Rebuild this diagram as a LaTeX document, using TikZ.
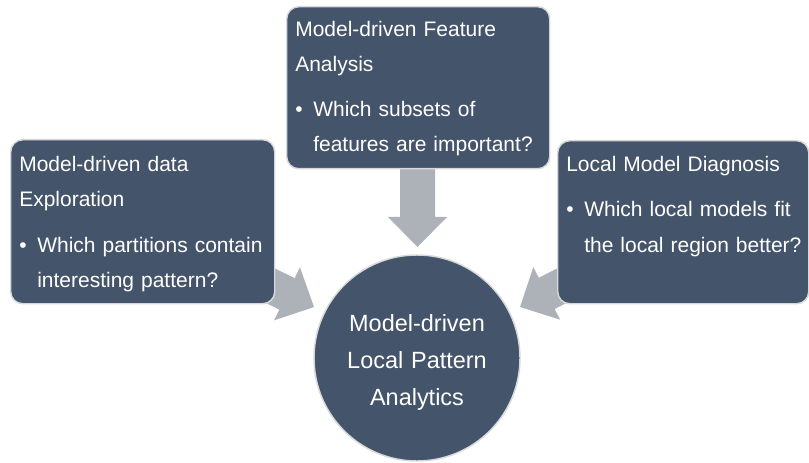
\documentclass[tikz,border=0pt]{standalone}
\usepackage{fontspec}
\setmainfont{Liberation Sans}
\definecolor{boxfill}{HTML}{44546A}
\definecolor{boxline}{HTML}{D6D8DC}
\definecolor{arrowgray}{HTML}{ADB1B8}
\begin{document}
\begin{tikzpicture}[x=0.75pt,y=-0.75pt,
  card/.style={draw=boxline, line width=1.1pt, fill=boxfill, rounded corners=9pt,
    inner sep=0pt, anchor=north west},
  hub/.style={circle, draw=boxline, line width=1.1pt, fill=boxfill, inner sep=0pt,
    minimum size=154.5pt},
  txt/.style={font=\fontsize{15.75pt}{26.25pt}\selectfont, text=white, align=left,
    text width=190pt, inner sep=0pt, anchor=base west},
  ctxt/.style={font=\fontsize{17.6pt}{27.75pt}\selectfont, text=white, align=center,
    text width=150pt, inner sep=0pt, anchor=base},
  blockarrow/.pic={\fill[arrowgray] (-100,-17.5) -- (-30,-17.5) -- (-30,-29.5) -- (0,0)
    -- (-30,29.5) -- (-30,17.5) -- (-100,17.5) -- cycle;}]
\useasboundingbox (0,0) rectangle (809,463);
% arrow tips
\coordinate (tipT) at (417.5,247);
\coordinate (tipL) at (314,307);
\coordinate (tipR) at (520,307);
\pic[rotate=-90] at (tipT) {blockarrow};
\pic[rotate=-26] at (tipL) {blockarrow};
\pic[rotate=207] at (tipR) {blockarrow};
% boxes
\node[card, minimum width=197.25pt, minimum height=121.5pt] (top) at (286,6) {};
\node[card, minimum width=198pt, minimum height=123pt] (left) at (10,139) {};
\node[card, minimum width=188.25pt, minimum height=122.25pt] (right) at (557,140) {};
\node[hub] (hubc) at (417,358) {};
% texts
\node[txt] (toptext) at (295,37) {Model-driven Feature\\Analysis\\[7.5pt]\makebox[13.5pt][l]{•}Which subsets of\\\hspace*{13.5pt}features are important?};
\node[txt] (lefttext) at (19,172) {Model-driven data\\Exploration\\[7.5pt]\makebox[13.5pt][l]{•}Which partitions contain\\\hspace*{13.5pt}interesting pattern?};
\node[txt] (righttext) at (566,172) {Local Model Diagnosis\\[7.5pt]\makebox[13.5pt][l]{•}Which local models fit\\\hspace*{13.5pt}the local region better?};
\node[ctxt] (hubtext) at (417,331) {Model-driven\\Local Pattern\\Analytics};
\end{tikzpicture}
\end{document}
